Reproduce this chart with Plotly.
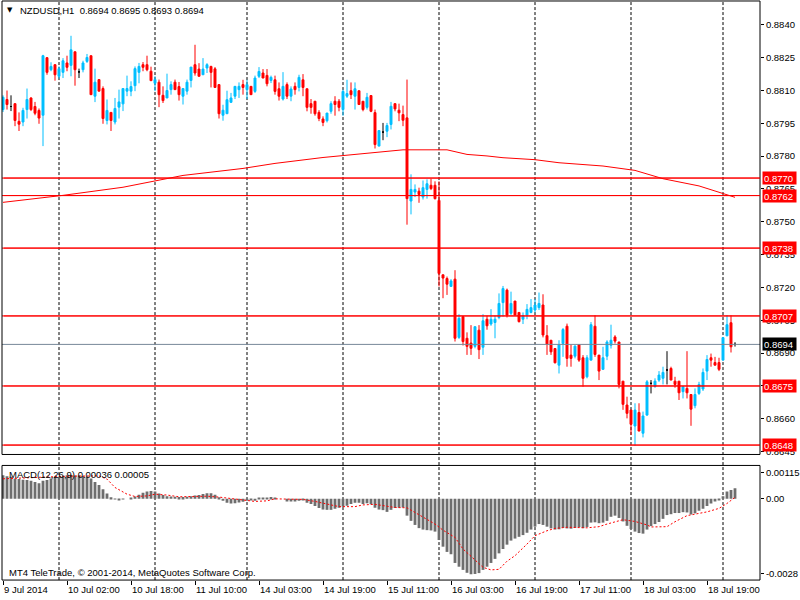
import plotly.graph_objects as go

# NZDUSD H1, one entry per bar (bar 0 = 9 Jul 2014 10:00)
opens = [
    .88013, .88059, .88027, .88040, .87959, .87956, .88013, .88066, .88027, .88009,
    .87987, .88250, .88195, .88218, .88165, .88183, .88226, .88215, .88277, .88185,
    .88195, .88233, .88259, .88074, .88150, .88109, .87963, .88000, .87956, .88024,
    .88039, .88097, .88097, .88122, .88183, .88218, .88218, .88188, .88133, .88138,
    .88078, .88066, .88104, .88138, .88118, .88074, .88097, .88146, .88218, .88198,
    .88172, .88203, .88210, .88199, .88127, .87987, .87994, .88046, .88074, .88104,
    .88127, .88104, .88119, .88096, .88165, .88180, .88169, .88146, .88149, .88108,
    .88061, .88127, .88074, .88119, .88114, .88149, .88108, .88040, .88051, .88000,
    .87970, .87962, .88005, .88051, .88051, .88013, .88074, .88099, .88074, .88099,
    .88051, .88023, .88077, .87999, .87846, .87910, .87914, .87945, .88040, .88010,
    .87990, .87975, .87595, .87636, .87640, .87613, .87648, .87667, .87667, .87598,
    .87258, .87241, .87205, .87238, .86972, .87067, .86968, .86946, .86931, .87005,
    .86927, .87055, .87033, .87040, .87063, .87131, .87188, .87082, .87138, .87086,
    .87055, .87074, .87086, .87097, .87108, .87120, .86980, .86959, .86921, .86845,
    .86944, .87023, .86891, .86886, .86939, .86879, .86792, .86868, .87023, .86891,
    .86826, .86886, .86936, .86974, .86951, .86772, .86663, .86640, .86567, .86629,
    .86534, .86617, .86762, .86747, .86777, .86785, .86823, .86830, .86772, .86772,
    .86724, .86739, .86711, .86660, .86716, .86736, .86818, .86879, .86857, .86857,
    .86868, .86979, .87039, .86940,
]
highs = [
    .88078, .88100, .88078, .88040, .88000, .88021, .88109, .88069, .88048, .88018,
    .88263, .88253, .88229, .88218, .88210, .88248, .88259, .88350, .88277, .88200,
    .88236, .88267, .88259, .88200, .88150, .88119, .88059, .88000, .88066, .88104,
    .88109, .88168, .88142, .88210, .88226, .88230, .88259, .88209, .88165, .88150,
    .88119, .88177, .88142, .88150, .88139, .88109, .88150, .88207, .88309, .88225,
    .88248, .88225, .88213, .88207, .88127, .88035, .88099, .88089, .88119, .88137,
    .88149, .88149, .88119, .88168, .88207, .88198, .88198, .88168, .88168, .88137,
    .88184, .88137, .88119, .88137, .88172, .88175, .88108, .88061, .88051, .88010,
    .87982, .87997, .88051, .88074, .88061, .88104, .88149, .88137, .88137, .88099,
    .88051, .88089, .88077, .88013, .87917, .87952, .87952, .88048, .88040, .88040,
    .88031, .88150, .87717, .87671, .87656, .87689, .87694, .87697, .87685, .87685,
    .87258, .87250, .87238, .87279, .87078, .87067, .86995, .87028, .87021, .87028,
    .87078, .87071, .87101, .87071, .87173, .87207, .87195, .87181, .87138, .87086,
    .87086, .87124, .87147, .87147, .87177, .87169, .87028, .86959, .86921, .86959,
    .87015, .87035, .86939, .86936, .86939, .86891, .86891, .87042, .87073, .86891,
    .86929, .86959, .87030, .86982, .86951, .86772, .86701, .86640, .86671, .86671,
    .86633, .86777, .86777, .86785, .86818, .86838, .86909, .86838, .86792, .86772,
    .86747, .86909, .86711, .86739, .86769, .86830, .86891, .86898, .86883, .86879,
    .86971, .87073, .87073, .86950,
]
lows = [
    .88002, .88013, .88006, .87937, .87915, .87937, .87972, .88006, .87987, .87948,
    .87846, .88172, .88188, .88145, .88154, .88157, .88188, .88165, .88122, .88157,
    .88183, .88226, .88081, .88047, .88097, .87948, .87945, .87915, .87945, .87972,
    .88006, .88074, .88074, .88097, .88133, .88188, .88188, .88145, .88097, .88024,
    .88043, .88066, .88081, .88104, .88054, .88036, .88081, .88114, .88168, .88165,
    .88172, .88180, .88114, .88114, .87972, .87962, .87994, .88043, .88061, .88066,
    .88081, .88061, .88081, .88089, .88157, .88157, .88119, .88134, .88081, .88054,
    .88054, .88061, .88051, .88081, .88096, .88074, .88005, .87994, .87985, .87960,
    .87937, .87954, .87994, .87985, .88005, .87985, .88066, .88061, .88013, .88036,
    .88005, .88013, .88001, .87835, .87846, .87873, .87887, .87922, .88005, .87960,
    .87937, .87487, .87534, .87613, .87587, .87602, .87606, .87645, .87602, .87205,
    .87151, .87166, .87205, .86953, .86965, .86935, .86892, .86892, .86922, .86873,
    .86892, .87007, .87025, .86968, .87055, .87067, .87063, .87074, .87074, .87040,
    .87033, .87055, .87082, .87086, .87097, .86972, .86892, .86892, .86853, .86807,
    .86883, .86838, .86838, .86876, .86860, .86747, .86785, .86868, .86883, .86777,
    .86823, .86868, .86921, .86944, .86739, .86641, .86602, .86526, .86477, .86544,
    .86515, .86614, .86716, .86742, .86769, .86757, .86757, .86777, .86742, .86686,
    .86693, .86693, .86568, .86648, .86709, .86727, .86777, .86838, .86845, .86818,
    .86868, .86979, .86903, .86930,
]
closes = [
    .88069, .88036, .88027, .87963, .87946, .88009, .88059, .88013, .87996, .87974,
    .88259, .88183, .88210, .88172, .88200, .88236, .88206, .88286, .88195, .88185,
    .88226, .88251, .88081, .88138, .88097, .87972, .88009, .87963, .88018, .88048,
    .88109, .88109, .88118, .88200, .88210, .88206, .88195, .88145, .88150, .88081,
    .88054, .88100, .88127, .88104, .88081, .88109, .88138, .88207, .88180, .88165,
    .88198, .88218, .88183, .88114, .87994, .88010, .88058, .88066, .88119, .88119,
    .88114, .88127, .88081, .88157, .88187, .88157, .88131, .88160, .88096, .88074,
    .88119, .88074, .88107, .88104, .88160, .88114, .88023, .88023, .87994, .87972,
    .87954, .87997, .88040, .88036, .88023, .88096, .88086, .88081, .88108, .88036,
    .88013, .88069, .88005, .87853, .87917, .87910, .87940, .88028, .88016, .87998,
    .87964, .87606, .87648, .87648, .87625, .87656, .87674, .87652, .87606, .87264,
    .87243, .87215, .87230, .86968, .87059, .86953, .86931, .86922, .87021, .86916,
    .87048, .87025, .87055, .87055, .87127, .87195, .87074, .87127, .87074, .87044,
    .87071, .87100, .87108, .87120, .87127, .86983, .86942, .86906, .86856, .86939,
    .87008, .86876, .86876, .86932, .86868, .86785, .86879, .87030, .86894, .86818,
    .86879, .86951, .86959, .86955, .86757, .86666, .86625, .86575, .86640, .86544,
    .86613, .86769, .86762, .86772, .86800, .86812, .86823, .86777, .86757, .86719,
    .86747, .86719, .86644, .86711, .86757, .86812, .86871, .86868, .86845, .86826,
    .86971, .87030, .86929, .86940,
]

# moving average (red line), read at a few bars
ma_bar = [0, 15, 30, 45, 60, 68, 80, 92, 100, 111, 116, 121, 125, 133, 139, 150, 158, 165, 174, 183]
ma_val = [.87589, .87621, .87658, .87712, .87744, .87767, .87794, .87816, .87829, .87829,
          .87808, .87801, .87793, .87784, .87770, .87755, .87735, .87697, .87664, .87612]

# MACD(12,26,9) histogram, one per bar
macd = [
    .00081, .00078, .00076, .00070, .00068, .00066, .00065, .00062, .00058, .00054,
    .00062, .00065, .00070, .00073, .00076, .00078, .00081, .00082, .00080, .00080,
    .00079, .00076, .00070, .00058, .00048, .00033, .00018, .00005, -.00002, -.00005,
    -.00002, .00000, .00003, .00008, .00014, .00021, .00025, .00027, .00025, .00018,
    .00013, .00009, .00008, .00007, .00006, .00006, .00007, .00009, .00011, .00013,
    .00017, .00019, .00019, .00014, .00005, -.00007, -.00014, -.00016, -.00015, -.00013,
    -.00010, -.00007, -.00005, -.00007, .00002, .00002, .00002, .00006, .00003, .00000,
    .00000, -.00009, -.00009, -.00009, -.00007, -.00006, -.00014, -.00018, -.00025, -.00032,
    -.00037, -.00038, -.00038, -.00034, -.00031, -.00027, -.00024, -.00018, -.00014, -.00014,
    -.00018, -.00015, -.00019, -.00031, -.00037, -.00039, -.00045, -.00038, -.00032, -.00031,
    -.00030, -.00058, -.00076, -.00090, -.00101, -.00106, -.00108, -.00109, -.00113, -.00142,
    -.00165, -.00183, -.00191, -.00221, -.00234, -.00245, -.00255, -.00260, -.00259, -.00256,
    -.00245, -.00234, -.00221, -.00207, -.00188, -.00173, -.00158, -.00144, -.00137, -.00131,
    -.00125, -.00117, -.00106, -.00096, -.00087, -.00090, -.00096, -.00102, -.00106, -.00105,
    -.00100, -.00102, -.00103, -.00100, -.00098, -.00101, -.00097, -.00082, -.00081, -.00084,
    -.00082, -.00076, -.00062, -.00058, -.00066, -.00078, -.00093, -.00104, -.00113, -.00118,
    -.00120, -.00106, -.00094, -.00087, -.00080, -.00069, -.00056, -.00053, -.00049, -.00049,
    -.00046, -.00047, -.00054, -.00050, -.00041, -.00034, -.00025, -.00016, -.00009, -.00005,
    .00009, .00025, .00030, .00036,
]
# MACD signal line (red dots)
sig_bar = [0, 4, 16, 24, 26, 28, 31, 33, 36, 38,
           41, 44, 48, 51, 54, 58, 62, 63, 66, 68,
           71, 75, 78, 81, 84, 88, 90, 93, 96, 98,
           101, 103, 105, 108, 110, 113, 115, 118, 120, 122,
           124, 126, 128, 131, 133, 136, 138, 141, 146, 149,
           151, 155, 158, 161, 162, 166, 168, 171, 176, 179,
           181, 183]
sig_val = [.00069, .00071, .00078, .00079, .00068, .00039, .00016, .00008, .00010, .00016,
           .00013, .00007, .00007, .00009, .00006, .00000, -.00006, -.00009, -.00007, .00000,
           -.00001, -.00002, -.00009, -.00018, -.00027, -.00027, -.00021, -.00019, -.00026, -.00030,
           -.00031, -.00047, -.00061, -.00087, -.00108, -.00133, -.00173, -.00211, -.00236, -.00245,
           -.00243, -.00215, -.00196, -.00156, -.00127, -.00110, -.00102, -.00098, -.00100, -.00096,
           -.00087, -.00072, -.00078, -.00090, -.00097, -.00096, -.00079, -.00058, -.00045, -.00033,
           -.00016, .00005]

levels = [0.8770, 0.8762, 0.8738, 0.8707, 0.8675, 0.8648]
bid = 0.8694

price_ticks = [0.8840, 0.8825, 0.8810, 0.8795, 0.8780, 0.8765, 0.8750,
               0.8735, 0.8720, 0.8705, 0.8690, 0.8675, 0.8660, 0.8645]
macd_tickvals = [0.00089, 0.0, -0.00258]
macd_ticktext = ["0.00115", "0.00", "-0.0028"]

label_bars = [0, 16, 32, 48, 64, 80, 96, 112, 128, 144, 160, 176]
label_text = ["9 Jul 2014", "10 Jul 02:00", "10 Jul 18:00", "11 Jul 10:00",
              "14 Jul 03:00", "14 Jul 19:00", "15 Jul 11:00", "16 Jul 03:00",
              "16 Jul 19:00", "17 Jul 11:00", "18 Jul 03:00", "18 Jul 19:00"]
grid_bars = [14, 38, 61, 85, 109, 133, 157, 180]

FONT = "Liberation Sans"
FS = 9.5
BULL = "#00bfff"
BEAR = "#ff0000"
XR = [-0.25, 189.25]


def px(x):
    return x / 800


def py(y):
    return 1 - y / 600


bars = list(range(len(opens)))
normal = [i for i in bars if opens[i] != closes[i]]
doji = [i for i in bars if opens[i] == closes[i]]

fig = go.Figure()
for lv in levels:
    fig.add_trace(go.Scatter(x=XR, y=[lv, lv], mode="lines", line=dict(color="#ff0000", width=1),
                             xaxis="x", yaxis="y"))
fig.add_trace(go.Scatter(x=XR, y=[bid, bid], mode="lines", line=dict(color="#778899", width=1),
                         xaxis="x", yaxis="y"))

fig.add_trace(go.Candlestick(
    x=normal,
    open=[opens[i] for i in normal], high=[highs[i] for i in normal],
    low=[lows[i] for i in normal], close=[closes[i] for i in normal],
    increasing=dict(line=dict(color=BULL, width=1), fillcolor=BULL),
    decreasing=dict(line=dict(color=BEAR, width=1), fillcolor=BEAR),
    whiskerwidth=0, xaxis="x", yaxis="y"))
fig.add_trace(go.Candlestick(
    x=doji,
    open=[opens[i] for i in doji], high=[highs[i] for i in doji],
    low=[lows[i] for i in doji], close=[closes[i] for i in doji],
    increasing=dict(line=dict(color="black", width=1), fillcolor="black"),
    decreasing=dict(line=dict(color="black", width=1), fillcolor="black"),
    whiskerwidth=0, xaxis="x", yaxis="y"))
fig.add_trace(go.Scatter(x=ma_bar, y=ma_val, mode="lines",
                         line=dict(color="#ff0000", width=1), xaxis="x", yaxis="y"))

fig.add_trace(go.Bar(x=bars, y=macd, width=0.7, marker=dict(color="#6e6e6e", line=dict(width=0)),
                     xaxis="x", yaxis="y2"))
fig.add_trace(go.Scatter(x=sig_bar, y=sig_val, mode="lines",
                         line=dict(color="#ff0000", width=1, dash="2px,2px"), xaxis="x", yaxis="y2"))

shapes = []
for b in grid_bars:
    shapes.append(dict(type="line", xref="x", yref="paper", x0=b, x1=b, y0=py(582), y1=py(1),
                       line=dict(color="black", width=1, dash="3px,2px"), layer="below"))
shapes.append(dict(type="rect", xref="paper", yref="paper", x0=px(2), x1=px(760), y0=py(456), y1=py(1),
                   line=dict(color="black", width=1)))
shapes.append(dict(type="rect", xref="paper", yref="paper", x0=px(2), x1=px(760), y0=py(582), y1=py(467),
                   line=dict(color="black", width=1)))

annotations = []
# level lines repeated on the top layer so nothing can draw over them
for lv in levels:
    annotations.append(dict(x=XR[1] - 0.05, y=lv, xref="x", yref="y", ax=XR[0] + 0.05, ay=lv,
                            axref="x", ayref="y", text="", showarrow=True, arrowhead=0,
                            arrowwidth=1, arrowcolor="#ff0000", standoff=0, startstandoff=0))
for lv in levels:
    annotations.append(dict(x=px(762), xref="paper", xanchor="left", y=lv, yref="y", yanchor="middle",
                            text="%.4f" % lv, showarrow=False, bgcolor="#ff0000", borderpad=1,
                            width=31, height=10, align="left",
                            font=dict(family=FONT, size=FS, color="white")))
annotations.append(dict(x=px(762), xref="paper", xanchor="left", y=bid, yref="y", yanchor="middle",
                        text="%.4f" % bid, showarrow=False, bgcolor="black", borderpad=1,
                        width=31, height=10, align="left",
                        font=dict(family=FONT, size=FS, color="white")))
for b, t in zip(label_bars, label_text):
    annotations.append(dict(x=b, xref="x", xanchor="left", xshift=-1, y=py(591), yref="paper",
                            yanchor="middle", text=t, showarrow=False,
                            font=dict(family=FONT, size=FS, color="black")))
annotations.append(dict(x=px(9.5), xref="paper", xanchor="center", y=py(10), yref="paper", yanchor="middle",
                        text="▼", showarrow=False, font=dict(family="DejaVu Sans", size=7, color="black")))
annotations.append(dict(x=px(18), xref="paper", xanchor="left", y=py(11), yref="paper", yanchor="middle",
                        text="NZDUSD,H1  0.8694 0.8695 0.8693 0.8694", showarrow=False,
                        font=dict(family=FONT, size=FS, color="black")))
annotations.append(dict(x=px(7), xref="paper", xanchor="left", y=py(476), yref="paper", yanchor="middle",
                        text="MACD(12,26,9) 0.00036 0.00005", showarrow=False,
                        font=dict(family=FONT, size=FS, color="black")))
annotations.append(dict(x=px(7), xref="paper", xanchor="left", y=py(574), yref="paper", yanchor="middle",
                        text="MT4 TeleTrade, © 2001-2014, MetaQuotes Software Corp.", showarrow=False,
                        font=dict(family=FONT, size=FS, color="black")))

fig.update_layout(
    width=800, height=600, margin=dict(l=0, r=0, t=0, b=0),
    paper_bgcolor="white", plot_bgcolor="white", showlegend=False, hovermode=False,
    boxgap=0.3,
    xaxis=dict(domain=[px(2), px(760)], range=XR, anchor="y2",
               rangeslider=dict(visible=False), showgrid=False, zeroline=False, showline=False,
               tickvals=label_bars, ticks="outside", ticklen=4, tickcolor="black",
               showticklabels=False),
    yaxis=dict(domain=[py(456), py(1)], range=[0.86437, 0.88509], side="right", anchor="x",
               tickvals=price_ticks, ticktext=["%.4f" % v for v in price_ticks],
               ticks="outside", ticklen=3, tickcolor="black", showgrid=False, zeroline=False,
               showline=False, tickfont=dict(family=FONT, size=FS, color="black")),
    yaxis2=dict(domain=[py(582), py(467)], range=[-0.0028, 0.00115], side="right", anchor="x",
                tickvals=macd_tickvals, ticktext=macd_ticktext,
                ticks="outside", ticklen=3, tickcolor="black", showgrid=False, zeroline=False,
                showline=False, tickfont=dict(family=FONT, size=FS, color="black")),
    shapes=shapes, annotations=annotations,
)

# the page's default 8px body margin would push the 800x600 figure off the window
fig.write_html("out.html", config={"displayModeBar": False},
               post_script="document.body.style.margin='0';")
